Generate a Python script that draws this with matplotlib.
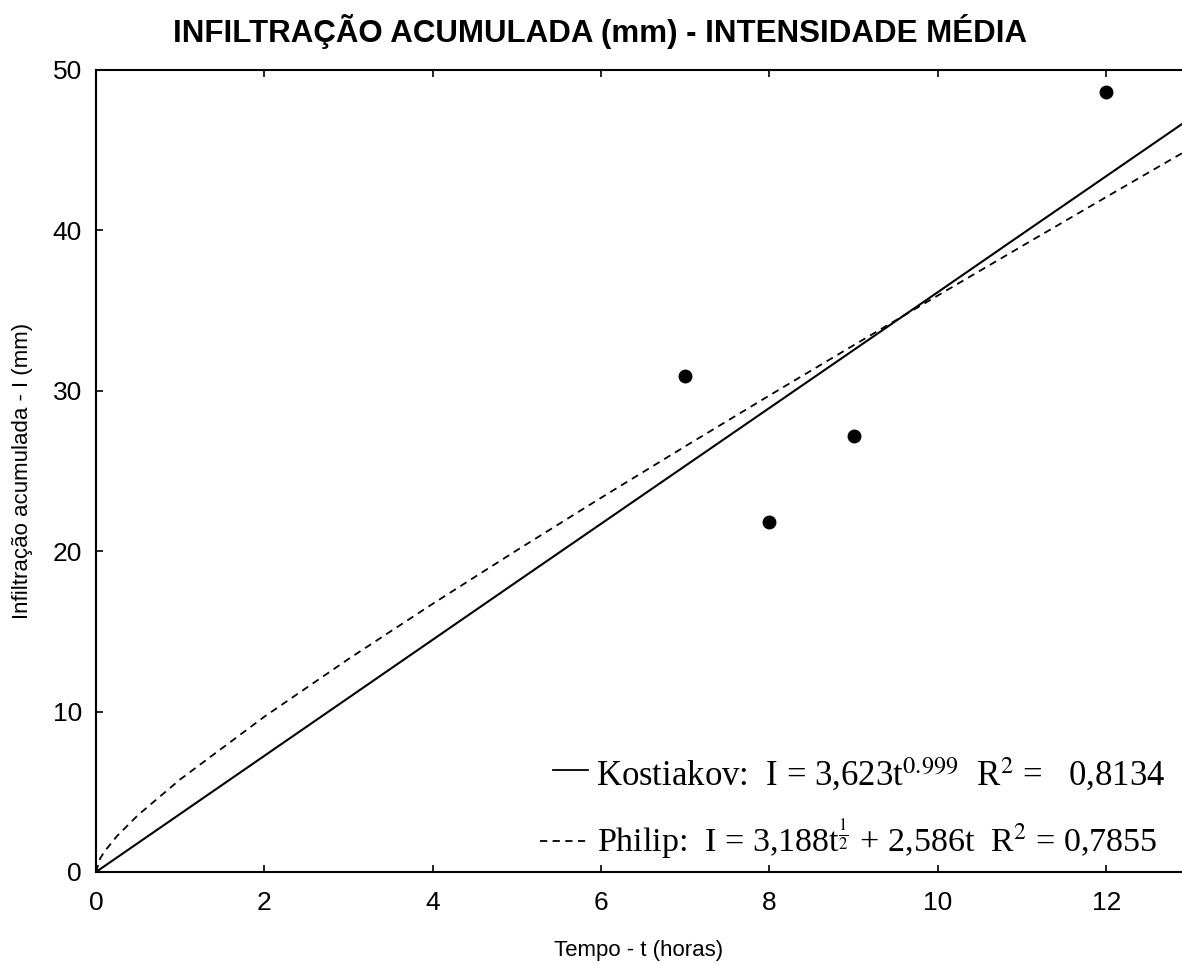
import matplotlib.pyplot as plt

# pontos observados
t_obs = [7, 8, 9, 12]
i_obs = [30.9, 21.8, 27.2, 48.6]

# curvas ajustadas
t_kost = [0, 1, 2, 3, 4, 5, 6, 7, 8, 9, 10, 11, 12, 12.9]
i_kost = [0, 3.62, 7.24, 10.86, 14.48, 18.10, 21.71, 25.32, 28.93, 32.54, 36.15, 39.77, 43.38, 46.63]

t_phil = [0, 0.05, 0.1, 0.25, 0.5, 1, 2, 3, 4, 5, 6, 7, 8, 9, 10, 11, 12, 12.9]
i_phil = [0, 0.84, 1.27, 2.24, 3.55, 5.77, 9.68, 13.28, 16.72, 20.06, 23.33, 26.54,
          29.71, 32.84, 35.94, 39.02, 42.08, 44.81]

x_ticks = [0, 2, 4, 6, 8, 10, 12]
y_ticks = [0, 10, 20, 30, 40, 50]

plt.rcParams['font.family'] = ['Liberation Sans Narrow', 'Liberation Sans', 'DejaVu Sans']
plt.rcParams['mathtext.fontset'] = 'stix'

fig = plt.figure(figsize=(11.82, 9.65), dpi=100)
ax = fig.add_axes([0.0812, 0.0964, 0.9188, 0.8311])

ax.plot(t_kost, i_kost, color='black', linewidth=1.5)
ax.plot(t_phil, i_phil, color='black', linewidth=1.3, linestyle=(0, (4, 3)))
ax.plot(t_obs, i_obs, 'o', color='black', markersize=9)

ax.set_xlim(0, 12.9)
ax.set_ylim(0, 50)
ax.set_xticks(x_ticks)
ax.set_yticks(y_ticks)
ax.tick_params(direction='in', length=5, width=1.2, labelsize=19, top=True)
ax.tick_params(axis='x', pad=14)
ax.tick_params(axis='y', pad=10)
ax.spines['right'].set_visible(False)
for s in ['left', 'bottom', 'top']:
    ax.spines[s].set_linewidth(1.5)

ax.set_xlabel('Tempo - t (horas)', fontsize=16, labelpad=18)
ax.set_ylabel('Infiltração acumulada - I (mm)', fontsize=16, labelpad=14)
fig.suptitle('INFILTRAÇÃO ACUMULADA (mm) - INTENSIDADE MÉDIA', fontsize=22.5,
             fontweight='bold', x=0.508, y=0.985)

# legenda desenhada a mao
ax.plot([0.421, 0.453], [0.127, 0.127], transform=ax.transAxes, color='black', linewidth=1.3)
ax.plot([0.409, 0.455], [0.038, 0.038], transform=ax.transAxes, color='black',
        linewidth=1.3, linestyle=(0, (4, 3)))
ax.text(5.94, 5.4, r'Kostiakov:  I = 3,623t$^{0.999}$  R$^2$ =   0,8134',
        fontsize=25, family='Liberation Serif')
ax.text(5.95, 1.2, r'Philip:  I = 3,188t$^{\frac{1}{2}}$ + 2,586t  R$^2$ = 0,7855',
        fontsize=24.5, family='Liberation Serif')

fig.savefig('out.png', dpi=100)
